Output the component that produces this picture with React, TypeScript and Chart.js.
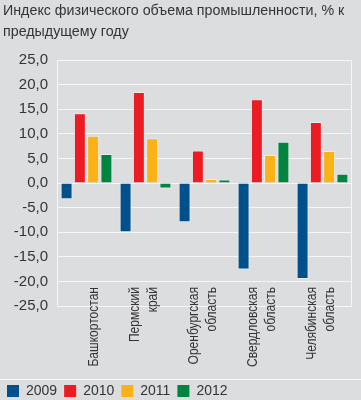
import { useEffect, useRef } from 'react';
import { Chart, registerables } from 'chart.js';

Chart.register(...registerables);

// ---- data ----
const categories: (string | string[])[] = [
  'Башкортостан',
  ['Пермский', 'край'],
  ['Оренбургская', 'область'],
  ['Свердловская', 'область'],
  ['Челябинская', 'область'],
];
const years = ['2009', '2010', '2011', '2012'];
const v2009 = [-3.3, -10.0, -8.0, -17.6, -19.5];
const v2010 = [14.2, 18.5, 6.6, 17.0, 12.4];
const v2011 = [9.6, 9.1, 0.8, 5.7, 6.5];
const v2012 = [5.9, -1.1, 0.7, 8.4, 1.9];
const seriesValues = [v2009, v2010, v2011, v2012];
const titleLines = ['Индекс физического объема промышленности, % к', 'предыдущему году'];
const yMin = -25;
const yMax = 25;
const yStep = 5;

// ---- style ----
const colors = ['#00508b', '#ed1c24', '#fbb217', '#00843f'];
const BG = '#dcdddf';
const TEXT = '#343434';
const GRID = '#f6f6f6';
const FONT = "'Liberation Sans', Arial, sans-serif";

const decorPlugin = {
  id: 'decor',
  beforeDatasetsDraw(chart: any) {
    const { ctx, chartArea: a } = chart;
    ctx.save();
    ctx.strokeStyle = GRID;
    ctx.lineWidth = 1;
    const l = Math.round(a.left) + 0.5;
    const r = Math.round(a.right) - 0.5;
    const t = Math.round(a.top) + 0.5;
    const b = Math.round(a.bottom) - 0.5;
    ctx.beginPath();
    ctx.moveTo(l, t);
    ctx.lineTo(l, b);
    ctx.moveTo(r, t);
    ctx.lineTo(r, b);
    ctx.stroke();
    ctx.restore();
  },
  afterDraw(chart: any) {
    const { ctx, chartArea: a } = chart;
    const xs = chart.scales.x;
    ctx.save();
    // title (condensed)
    ctx.font = `15.5px ${FONT}`;
    ctx.fillStyle = TEXT;
    ctx.textAlign = 'left';
    ctx.textBaseline = 'alphabetic';
    titleLines.forEach((ln, i) => {
      ctx.save();
      ctx.translate(3, 15 + i * 21);
      ctx.scale(0.92, 1);
      ctx.fillText(ln, 0, 0);
      ctx.restore();
    });
    // separator above legend
    const hb = chart.legend.legendHitBoxes && chart.legend.legendHitBoxes[0];
    const lc = hb ? hb.top + hb.height / 2 : chart.legend.top + 14;
    const sy = Math.round(lc - 12.5) + 0.5;
    ctx.strokeStyle = 'rgba(255,255,255,0.75)';
    ctx.lineWidth = 1;
    ctx.beginPath();
    ctx.moveTo(0, sy);
    ctx.lineTo(chart.width, sy);
    ctx.stroke();
    // category labels (rotated, condensed)
    ctx.font = `14.5px ${FONT}`;
    ctx.fillStyle = TEXT;
    ctx.textAlign = 'right';
    ctx.textBaseline = 'middle';
    categories.forEach((c, i) => {
      const lines = Array.isArray(c) ? c : [c];
      const cx = xs.getPixelForValue(i);
      lines.forEach((ln, k) => {
        const px = cx + 7 - (lines.length - 1 - k) * 18;
        ctx.save();
        ctx.translate(px, a.bottom - 19);
        ctx.rotate(-Math.PI / 2);
        ctx.scale(0.83, 1);
        ctx.fillText(ln, 0, 0);
        ctx.restore();
      });
    });
    ctx.restore();
  },
};

export default function App() {
  const ref = useRef<HTMLCanvasElement>(null);

  useEffect(() => {
    document.body.style.margin = '0';
    const chart = new Chart(ref.current as HTMLCanvasElement, {
      type: 'bar',
      data: {
        labels: categories.map((c) => (Array.isArray(c) ? c.join(' ') : c)),
        datasets: years.map((y, i) => ({
          label: y,
          data: seriesValues[i],
          backgroundColor: colors[i],
          borderColor: 'rgba(255,255,255,0.45)',
          borderWidth: 1,
          categoryPercentage: 0.9,
          barPercentage: 0.9,
        })),
      },
      options: {
        animation: false,
        responsive: false,
        devicePixelRatio: 1,
        layout: { padding: { left: 0, right: 9, top: 60, bottom: -8 } },
        plugins: {
          title: { display: false },
          legend: {
            display: true,
            position: 'bottom',
            align: 'start',
            labels: {
              boxWidth: 12,
              boxHeight: 12,
              padding: 7,
              color: TEXT,
              font: { family: FONT, size: 14 },
              generateLabels: (ch: any) =>
                Chart.defaults.plugins.legend.labels
                  .generateLabels(ch)
                  .map((l: any) => ({ ...l, lineWidth: 0, strokeStyle: 'rgba(0,0,0,0)' })),
            },
          },
          tooltip: { enabled: false },
        },
        scales: {
          x: {
            ticks: { display: false },
            grid: { display: false },
            border: { display: false },
            afterFit: (s: any) => {
              s.height = 71;
            },
          },
          y: {
            min: yMin,
            max: yMax,
            ticks: {
              stepSize: yStep,
              color: TEXT,
              padding: 9,
              font: { family: FONT, size: 15 },
              callback: (v: any) => Number(v).toFixed(1).replace('.', ','),
            },
            grid: { color: GRID, lineWidth: 1, drawTicks: false },
            border: { display: false },
            afterFit: (s: any) => {
              s.width = 57;
            },
          },
        },
      },
      plugins: [decorPlugin],
    } as any);
    return () => chart.destroy();
  }, []);

  return (
    <div style={{ position: 'relative', width: 361, height: 400, background: BG }}>
      <canvas ref={ref} width={361} height={400} style={{ display: 'block', width: 361, height: 400 }} />
    </div>
  );
}
